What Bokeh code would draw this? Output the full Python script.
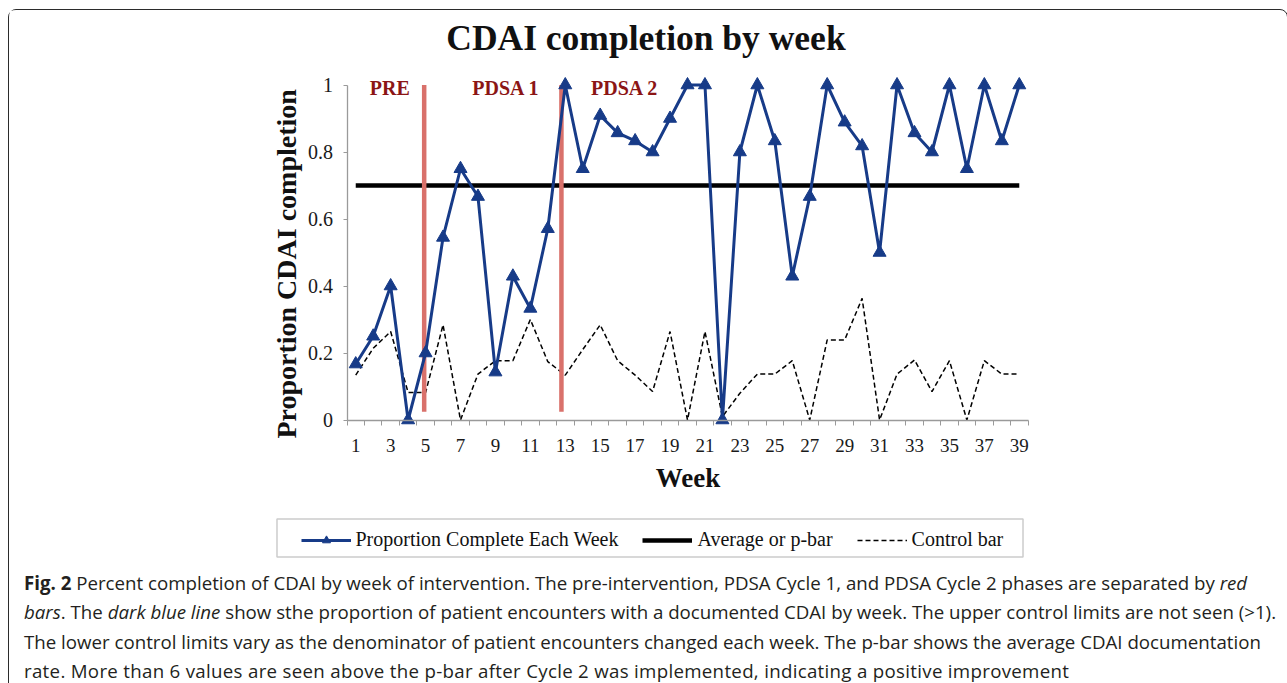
import math
from bokeh.plotting import figure
from bokeh.models import Label, Legend, LegendItem, FixedTicker, Div, BoxAnnotation
from bokeh.layouts import column
from bokeh.embed import file_html
from bokeh.resources import INLINE

# ---------------- data ----------------
weeks = list(range(1, 40))
proportion = [0.167, 0.25, 0.40, 0.0, 0.20, 0.545, 0.75, 0.667, 0.143, 0.429,
              0.333, 0.571, 1.0, 0.75, 0.909, 0.857, 0.833, 0.80, 0.90, 1.0,
              1.0, 0.0, 0.80, 1.0, 0.833, 0.429, 0.667, 1.0, 0.889, 0.818,
              0.50, 1.0, 0.857, 0.80, 1.0, 0.75, 1.0, 0.833, 1.0]
control = [0.134, 0.214, 0.264, 0.082, 0.082, 0.284, 0.0, 0.137, 0.177, 0.177,
           0.30, 0.174, 0.134, 0.21, 0.284, 0.177, 0.134, 0.085, 0.264, 0.0,
           0.264, 0.01, 0.08, 0.137, 0.137, 0.177, 0.0, 0.239, 0.239, 0.363,
           0.0, 0.137, 0.179, 0.085, 0.177, 0.0, 0.177, 0.137, 0.137]
pbar = 0.70
phase_boundaries = [4.92, 12.78]
phase_names = ["PRE", "PDSA 1", "PDSA 2"]
x_tick_labels = [str(w) for w in range(1, 40, 2)]
y_ticks = [0, 0.2, 0.4, 0.6, 0.8, 1.0]
y_tick_labels = ["0", "0.2", "0.4", "0.6", "0.8", "1"]

# ---------------- style ----------------
NAVY = "#173b88"
RED_BAR = "#d9716b"
DARK_RED = "#8b1515"
SERIF = "Liberation Serif"
AXIS_GRAY = "#9a9a9a"

W, H = 1268, 556
# data window chosen so that the plotting frame fills the whole canvas
p = figure(width=W, height=H, x_range=(-18.828, 53.788), y_range=(-0.43731, 1.22239),
           output_backend="svg", toolbar_location=None,
           min_border=0, min_border_left=0, min_border_right=0,
           min_border_top=0, min_border_bottom=0)
p.outline_line_color = None
p.xgrid.grid_line_color = None
p.ygrid.grid_line_color = None
p.background_fill_color = "white"
p.border_fill_color = "white"

# x axis
xa = p.xaxis[0]
xa.fixed_location = 0
xa.bounds = (0.5, 39.5)
xa.ticker = FixedTicker(ticks=list(range(1, 40, 2)),
                        minor_ticks=[w - 0.5 for w in weeks] + [39.5])
xa.major_label_overrides = {w: lab for w, lab in zip(range(1, 40, 2), x_tick_labels)}
xa.major_tick_line_color = None
xa.major_tick_out = 0
xa.major_tick_in = 0
xa.minor_tick_out = 5
xa.minor_tick_in = 0
xa.minor_tick_line_color = AXIS_GRAY
xa.axis_line_color = AXIS_GRAY
xa.axis_line_width = 1.3
xa.major_label_standoff = 14
xa.major_label_text_font = SERIF
xa.major_label_text_font_size = "19px"
xa.major_label_text_color = "#1a1a1a"

# y axis
ya = p.yaxis[0]
ya.fixed_location = 0.5
ya.bounds = (0, 1)
ya.ticker = FixedTicker(ticks=y_ticks, minor_ticks=[])
ya.major_label_overrides = {t: lab for t, lab in zip(y_ticks, y_tick_labels)}
ya.major_tick_out = 4
ya.major_tick_in = 0
ya.major_tick_line_color = AXIS_GRAY
ya.minor_tick_line_color = None
ya.axis_line_color = AXIS_GRAY
ya.axis_line_width = 1.3
ya.major_label_standoff = 10
ya.major_label_text_font = SERIF
ya.major_label_text_font_size = "20px"
ya.major_label_text_color = "#1a1a1a"

# axis titles
p.add_layout(Label(x=-2.99, y=0.466, text="Proportion CDAI completion",
                   angle=math.pi / 2, text_align="center", text_baseline="middle",
                   text_font=SERIF, text_font_style="bold", text_font_size="28px",
                   text_color="#111111"))
p.add_layout(Label(x=20.03, y=-0.173, text="Week",
                   text_align="center", text_baseline="middle",
                   text_font=SERIF, text_font_style="bold", text_font_size="27px",
                   text_color="#111111"))

# ---------------- glyphs ----------------
r_ctrl = p.line(weeks, control, line_color="black", line_width=1.5, line_dash="5 3")
r_pbar = p.line(weeks, [pbar] * len(weeks), line_color="black", line_width=4.5)
p.segment(x0=phase_boundaries, y0=[0.025] * len(phase_boundaries),
          x1=phase_boundaries, y1=[1.0] * len(phase_boundaries),
          line_color=RED_BAR, line_width=4.5)
r_line = p.line(weeks, proportion, line_color=NAVY, line_width=3)
r_mark = p.scatter(weeks, proportion, marker="triangle", size=13,
                   fill_color=NAVY, line_color=NAVY)

# phase labels
for name, xpos in zip(phase_names, [2.95, 9.6, 16.4]):
    p.add_layout(Label(x=xpos, y=0.991, text=name, text_align="center",
                       text_baseline="middle", text_font=SERIF,
                       text_font_style="bold", text_font_size="20px",
                       text_color=DARK_RED))

# title
p.add_layout(Label(x=17.62, y=1.14, text="CDAI completion by week",
                   text_align="center", text_baseline="middle",
                   text_font=SERIF, text_font_style="bold",
                   text_font_size="35.5px", text_color="#111111"))

# legend frame + legend
p.add_layout(BoxAnnotation(left=-3.509, right=39.214, top=-0.2955, bottom=-0.409,
                           fill_color="white", fill_alpha=1.0,
                           line_color="#555555", line_width=1.5))
legend = Legend(items=[
    LegendItem(label="Proportion Complete Each Week", renderers=[r_line, r_mark]),
    LegendItem(label="Average or p-bar", renderers=[r_pbar]),
    LegendItem(label="Control bar", renderers=[r_ctrl]),
], location=(291.5, 15), orientation="horizontal", glyph_width=50,
    glyph_height=20, label_standoff=5, spacing=24, padding=8,
    border_line_color=None, background_fill_alpha=0.0,
    label_text_font=SERIF, label_text_font_size="20px",
    label_text_color="#111111")
p.add_layout(legend)

# ---------------- caption ----------------
line_style = "height: 29.3px; line-height: 29.3px; white-space: nowrap;"
cap = (
    '<div style="font-family: \'Open Sans\', sans-serif; font-size: 18.7px; '
    'color: #231f20; margin: -3px 0 0 0; padding: 0 0 0 10px;">'
    f'<div style="{line_style}"><b>Fig. 2</b> Percent completion of CDAI by week of intervention. '
    'The pre-intervention, PDSA Cycle 1, and PDSA Cycle 2 phases are separated by <i>red</i></div>'
    f'<div style="{line_style}"><i>bars</i>. The <i>dark blue line</i> show sthe proportion of '
    'patient encounters with a documented CDAI by week. The upper control limits are not seen (&gt;1).</div>'
    f'<div style="{line_style}">The lower control limits vary as the denominator of patient '
    'encounters changed each week. The p-bar shows the average CDAI documentation</div>'
    f'<div style="{line_style} letter-spacing: 0.3px;">rate. More than 6 values are seen above the '
    'p-bar after Cycle 2 was implemented, indicating a positive improvement</div>'
    '</div>'
)
div = Div(text=cap, width=W, height=116)

layout = column(p, div, styles={"border": "1.5px solid #2b2b2b",
                                "border-radius": "8px",
                                "margin": "9px 0 0 8px",
                                "background-color": "white"})

open("out.html", "w").write(file_html(layout, INLINE))
